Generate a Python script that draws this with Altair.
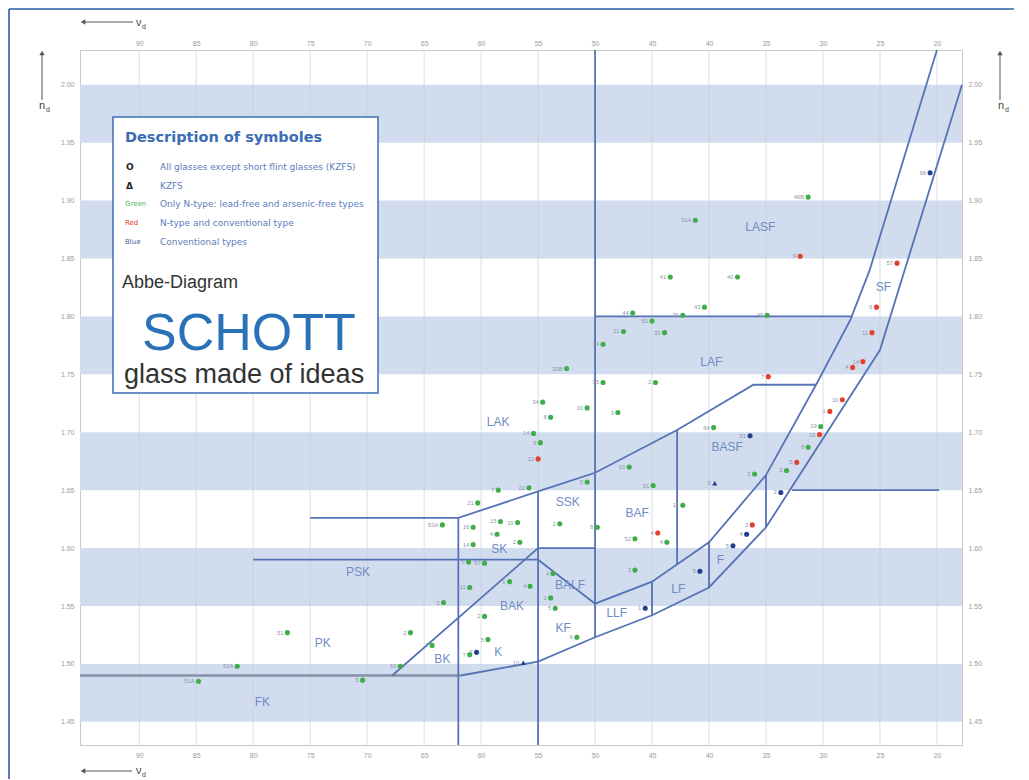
import altair as alt
import pandas as pd

# ---------------- axes ----------------
VD_DOMAIN = [95.2, 17.8]
ND_DOMAIN = [1.43, 2.03]
VD_TICKS = [90, 85, 80, 75, 70, 65, 60, 55, 50, 45, 40, 35, 30, 25, 20]
ND_TICKS = [1.45, 1.50, 1.55, 1.60, 1.65, 1.70, 1.75, 1.80, 1.85, 1.90, 1.95, 2.00]

# shaded nd bands
BAND_LO = [1.45, 1.55, 1.65, 1.75, 1.85, 1.95]
BAND_HI = [1.50, 1.60, 1.70, 1.80, 1.90, 2.00]

# ---------------- glasses ----------------
GLASS_VD = [20.6, 31.3, 41.2, 32.0, 23.5, 43.4, 37.5, 46.7, 45.0, 42.3,
            40.4, 34.9, 47.5, 43.9, 49.3, 52.5, 34.8, 49.3, 44.7, 48.0,
            54.6, 50.7, 53.9, 55.4, 54.8, 55.0, 39.6, 36.4, 47.0, 44.9,
            50.7, 58.5, 55.8, 36.0, 39.5, 42.3, 60.3, 25.3, 25.7, 26.5,
            27.4, 28.3, 29.4, 30.2, 30.3, 31.3, 32.3, 33.2, 33.7, 36.2,
            36.7, 37.9, 40.8, 53.1, 49.8, 60.7, 58.3, 56.8, 58.6, 56.6,
            46.5, 44.5, 43.7, 60.7, 46.5, 53.7, 61.1, 59.7, 57.5, 55.7,
            53.9, 53.5, 61.0, 63.3, 59.7, 45.6, 51.6, 63.4, 77.0, 66.2,
            64.3, 59.4, 61.0, 60.4, 56.3, 67.1, 81.4, 84.8, 70.4]
GLASS_ND = [1.924, 1.903, 1.883, 1.852, 1.846, 1.834, 1.834, 1.803, 1.796, 1.801,
            1.808, 1.801, 1.787, 1.786, 1.776, 1.755, 1.748, 1.743, 1.743, 1.717,
            1.726, 1.721, 1.713, 1.699, 1.691, 1.677, 1.704, 1.697, 1.670, 1.654,
            1.657, 1.650, 1.652, 1.664, 1.656, 1.637, 1.639, 1.808, 1.786, 1.761,
            1.756, 1.728, 1.718, 1.705, 1.698, 1.687, 1.674, 1.667, 1.648, 1.620,
            1.612, 1.602, 1.580, 1.621, 1.618, 1.618, 1.623, 1.622, 1.612, 1.605,
            1.608, 1.613, 1.605, 1.603, 1.581, 1.578, 1.588, 1.587, 1.571, 1.567,
            1.557, 1.548, 1.566, 1.553, 1.541, 1.548, 1.523, 1.620, 1.527, 1.527,
            1.516, 1.521, 1.508, 1.510, 1.501, 1.498, 1.498, 1.485, 1.486]
GLASS_TYPE = ["blue", "green", "green", "red", "red", "green", "green", "green", "green", "green",
              "green", "green", "green", "green", "green", "green", "red", "green", "green", "green",
              "green", "green", "green", "green", "green", "red", "green", "blue", "green", "green",
              "green", "green", "green", "green", "blue", "green", "green", "red", "red", "red",
              "red", "red", "red", "green", "red", "green", "red", "green", "blue", "red",
              "blue", "blue", "blue", "green", "green", "green", "green", "green", "green", "green",
              "green", "red", "green", "green", "green", "green", "green", "green", "green", "green",
              "green", "green", "green", "green", "green", "blue", "green", "green", "green", "green",
              "green", "green", "green", "blue", "blue", "green", "green", "green", "green"]
GLASS_SYMBOL = ["circle"] * 34 + ["triangle"] + ["circle"] * 49 + ["triangle"] + ["circle"] * 4
GLASS_LABEL = ["66", "46B", "31A", "9", "57", "41", "40", "44", "50", "36",
               "43", "45", "21", "33", "34", "33B", "7", "35", "2", "3",
               "34", "10", "8", "14", "9", "12", "64", "51", "10", "51",
               "5", "7", "22", "2", "5", "11", "21", "6", "11", "14",
               "4", "10", "1", "19", "15", "8", "5", "3", "2", "2",
               "4", "5", "5", "2", "8", "16", "15", "10", "4", "2",
               "52", "4", "4", "14", "3", "4", "5", "57", "1", "4",
               "2", "5", "11", "3", "2", "1", "9", "53A", "51", "2",
               "7", "5", "7", "7", "10", "10", "52A", "51A", "5"]

# ---------------- glass-type boundaries (vd, nd) ----------------
FK_LINE_VD = [95.2, 61.8]
FK_LINE_ND = [1.490, 1.490]
OUTER_VD = [61.8, 55.0, 50.0, 45.0, 40.0, 35.0, 25.0, 17.8]
OUTER_ND = [1.490, 1.502, 1.523, 1.542, 1.566, 1.618, 1.771, 2.000]
MID_VD = [80.0, 55.0, 50.0, 45.0, 40.0, 35.0, 30.5, 27.6, 25.9, 20.0]
MID_ND = [1.590, 1.590, 1.552, 1.571, 1.605, 1.663, 1.743, 1.797, 1.840, 2.030]
LAK_VD = [75.0, 62.0, 55.0, 50.0, 42.8, 36.1, 30.6]
LAK_ND = [1.626, 1.626, 1.649, 1.665, 1.702, 1.741, 1.741]
DIAG_VD = [67.8, 55.0, 50.0]
DIAG_ND = [1.490, 1.600, 1.600]
V62_VD, V62_ND = [62.0, 62.0], [1.430, 1.626]
V55_VD, V55_ND = [55.0, 55.0], [1.430, 1.649]
V50_VD, V50_ND = [50.0, 50.0], [1.523, 2.030]
V45_VD, V45_ND = [45.0, 45.0], [1.542, 1.571]
V43_VD, V43_ND = [42.8, 42.8], [1.586, 1.702]
V40_VD, V40_ND = [40.0, 40.0], [1.566, 1.605]
V35_VD, V35_ND = [35.0, 35.0], [1.618, 1.663]
H165_VD, H165_ND = [32.7, 19.8], [1.650, 1.650]
H180_VD, H180_ND = [50.0, 27.5], [1.800, 1.800]

REGION_NAME = ["PK", "FK", "PSK", "BK", "K", "BAK", "SK", "SSK", "LAK", "KF",
               "BALF", "LLF", "LF", "F", "BAF", "BASF", "LAF", "LASF", "SF"]
REGION_VD = [73.9, 79.2, 70.8, 63.4, 58.5, 57.3, 58.4, 52.4, 58.5, 52.8,
             52.2, 48.1, 42.7, 39.0, 46.3, 38.4, 39.8, 35.5, 24.7]
REGION_ND = [1.518, 1.467, 1.579, 1.504, 1.510, 1.550, 1.599, 1.640, 1.709, 1.531,
             1.568, 1.544, 1.565, 1.590, 1.630, 1.687, 1.761, 1.877, 1.825]

# ---------------- legend box text ----------------
LEGEND_TITLE = "Description of symboles"
LEGEND_SYMBOLS = ["O", "Δ"]
LEGEND_COLOR_KEYS = ["Green", "Red", "Blue"]
LEGEND_TEXTS = ["All glasses except short flint glasses (KZFS)",
                "KZFS",
                "Only N-type: lead-free and arsenic-free types",
                "N-type and conventional type",
                "Conventional types"]

# ---------------- styling ----------------
COL_GREEN, COL_RED, COL_BLUE = "#3fae49", "#e5402c", "#22408f"
LINE_COL = "#5573b6"
BAND_COL = "#d1dcee"

xs = alt.Scale(domain=VD_DOMAIN, nice=False, zero=False)
ys = alt.Scale(domain=ND_DOMAIN, nice=False, zero=False)
ax_common = dict(ticks=False, domain=False, grid=False, labelFontSize=7,
                 labelColor="#9b9b9b", title=None, labelFont="Liberation Sans")
ax_x_bottom = alt.Axis(orient="bottom", values=VD_TICKS, format="d", labelPadding=6, **ax_common)
ax_x_top = alt.Axis(orient="top", values=VD_TICKS, format="d", labelPadding=4, **ax_common)
ax_y_left = alt.Axis(orient="left", values=ND_TICKS, format=".2f", labelPadding=6, **ax_common)
ax_y_right = alt.Axis(orient="right", values=ND_TICKS, format=".2f", labelPadding=6, **ax_common)

band_df = pd.DataFrame({"lo": BAND_LO, "hi": BAND_HI,
                        "x0": [VD_DOMAIN[0]] * len(BAND_LO), "x1": [VD_DOMAIN[1]] * len(BAND_LO)})

bands = alt.Chart(band_df).mark_rect(color=BAND_COL).encode(
    x=alt.X("x0:Q", scale=xs, axis=ax_x_bottom), x2="x1:Q",
    y=alt.Y("lo:Q", scale=ys, axis=ax_y_left), y2="hi:Q")
carrier = alt.Chart(band_df).mark_rect(opacity=0).encode(
    x=alt.X("x0:Q", scale=xs, axis=ax_x_top), x2="x1:Q",
    y=alt.Y("lo:Q", scale=ys, axis=ax_y_right), y2="hi:Q")

vgrid = alt.Chart(pd.DataFrame({"vd": VD_TICKS})).mark_rule(
    color="#c8ced9", strokeWidth=0.7).encode(x=alt.X("vd:Q", scale=xs, axis=None))

def poly_df(named):
    rows = []
    for name, (vds, nds) in named.items():
        for i, (a, b) in enumerate(zip(vds, nds)):
            rows.append({"seg": name, "ord": i, "vd": a, "nd": b})
    return pd.DataFrame(rows)

blue_lines = poly_df({
    "outer": (OUTER_VD, OUTER_ND), "mid": (MID_VD, MID_ND), "lak": (LAK_VD, LAK_ND),
    "diag": (DIAG_VD, DIAG_ND), "v62": (V62_VD, V62_ND), "v55": (V55_VD, V55_ND),
    "v50": (V50_VD, V50_ND), "v45": (V45_VD, V45_ND), "v43": (V43_VD, V43_ND),
    "v40": (V40_VD, V40_ND), "v35": (V35_VD, V35_ND), "h165": (H165_VD, H165_ND),
    "h180": (H180_VD, H180_ND)})
gray_lines = poly_df({"fk": (FK_LINE_VD, FK_LINE_ND)})

def line_layer(df, color, width):
    return alt.Chart(df).mark_line(color=color, strokeWidth=width).encode(
        x=alt.X("vd:Q", scale=xs, axis=None), y=alt.Y("nd:Q", scale=ys, axis=None),
        detail="seg:N", order="ord:Q")

lines_gray = line_layer(gray_lines, "#8591a8", 2.6)
lines_blue = line_layer(blue_lines, LINE_COL, 1.8)

region_df = pd.DataFrame({"name": REGION_NAME, "vd": REGION_VD, "nd": REGION_ND})
regions = alt.Chart(region_df).mark_text(color="#6f8cc4", fontSize=12, font="Liberation Sans").encode(
    x=alt.X("vd:Q", scale=xs, axis=None), y=alt.Y("nd:Q", scale=ys, axis=None), text="name:N")

glass_df = pd.DataFrame({"vd": GLASS_VD, "nd": GLASS_ND, "type": GLASS_TYPE,
                         "sym": GLASS_SYMBOL, "label": GLASS_LABEL})
glass_labels = alt.Chart(glass_df).mark_text(align="right", dx=-4, fontSize=5.8, color="#8c96a8").encode(
    x=alt.X("vd:Q", scale=xs, axis=None), y=alt.Y("nd:Q", scale=ys, axis=None), text="label:N")
glass_pts = alt.Chart(glass_df).mark_point(filled=True, size=26, opacity=1).encode(
    x=alt.X("vd:Q", scale=xs, axis=None), y=alt.Y("nd:Q", scale=ys, axis=None),
    color=alt.Color("type:N", scale=alt.Scale(domain=["green", "red", "blue"],
                                              range=[COL_GREEN, COL_RED, COL_BLUE]), legend=None),
    shape=alt.Shape("sym:N", scale=alt.Scale(domain=["circle", "triangle"],
                                             range=["circle", "triangle-up"]), legend=None))

# ---------------- decorations (pixel positions inside the chart) ----------------
def px(col):
    return alt.X(col, type="quantitative", scale=None, axis=None)

def py(col):
    return alt.Y(col, type="quantitative", scale=None, axis=None)

frame = alt.Chart(pd.DataFrame({"a": [-71, -71], "c": [1000, -71],
                                "b": [-41, -41], "d": [-41, 760]})).mark_rule(
    color="#2a5fa8", strokeWidth=1.6).encode(x=px("a"), x2="c:Q", y=py("b"), y2="d:Q")

arrow_df = pd.DataFrame({"a": [3, 3, -38, 920], "c": [53, 52, -38, 920],
                         "b": [-28, 721, 3, 3], "d": [-28, 721, 50, 50]})
arrows = alt.Chart(arrow_df).mark_rule(color="#555", strokeWidth=1).encode(
    x=px("a"), x2="c:Q", y=py("b"), y2="d:Q")
head_df = pd.DataFrame({"a": [3, 3, -38, 920], "b": [-28, 721, 3, 3],
                        "shp": ["triangle-left", "triangle-left", "triangle-up", "triangle-up"]})
heads = alt.Chart(head_df).mark_point(filled=True, size=28, color="#555", opacity=1).encode(
    x=px("a"), y=py("b"), shape=alt.Shape("shp:N", scale=None, legend=None))

sym_df = pd.DataFrame({"t": ["ν", "ν", "n", "n"], "a": [56, 56, -41, 918], "b": [-27, 721, 56, 56]})
sub_df = pd.DataFrame({"t": ["d", "d", "d", "d"], "a": [62, 62, -34, 925], "b": [-23, 725, 60, 60]})
axis_syms = alt.Chart(sym_df).mark_text(align="left", fontSize=11, color="#444").encode(
    x=px("a"), y=py("b"), text="t:N")
axis_subs = alt.Chart(sub_df).mark_text(align="left", fontSize=7, color="#444").encode(
    x=px("a"), y=py("b"), text="t:N")

box = alt.Chart(pd.DataFrame({"a": [33], "b": [67], "c": [298], "d": [343]})).mark_rect(
    fill="white", stroke="#3c6eb4", strokeWidth=1.5).encode(x=px("a"), y=py("b"), x2="c:Q", y2="d:Q")

title_txt = alt.Chart(pd.DataFrame({"t": [LEGEND_TITLE], "a": [45], "b": [88]})).mark_text(
    align="left", fontSize=14.5, fontWeight="bold", font="DejaVu Sans", color="#3a6db4").encode(
    x=px("a"), y=py("b"), text="t:N")

sym_key = alt.Chart(pd.DataFrame({"t": LEGEND_SYMBOLS, "a": [46, 46], "b": [117, 136]})).mark_text(
    align="left", fontSize=9, fontWeight="bold", font="DejaVu Sans", color="#222").encode(
    x=px("a"), y=py("b"), text="t:N")
col_key = alt.Chart(pd.DataFrame({"t": LEGEND_COLOR_KEYS, "a": [45, 45, 45], "b": [154, 173, 192],
                                  "c": ["#5cb85c", "#e5402c", "#3a5fa8"]})).mark_text(
    align="left", fontSize=7, font="DejaVu Sans").encode(x=px("a"), y=py("b"), text="t:N",
                                                         color=alt.Color("c:N", scale=None, legend=None))
desc = alt.Chart(pd.DataFrame({"t": LEGEND_TEXTS, "a": [80] * 5, "b": [117, 136, 154, 173, 192]})).mark_text(
    align="left", fontSize=9, font="DejaVu Sans", color="#5b7dbb").encode(x=px("a"), y=py("b"), text="t:N")

abbe = alt.Chart(pd.DataFrame({"t": ["Abbe-Diagram"], "a": [42], "b": [233]})).mark_text(
    align="left", fontSize=18, color="#333").encode(x=px("a"), y=py("b"), text="t:N")
schott = alt.Chart(pd.DataFrame({"t": ["SCHOTT"], "a": [62], "b": [284]})).mark_text(
    align="left", fontSize=52, color="#2a72b8").encode(x=px("a"), y=py("b"), text="t:N")
slogan = alt.Chart(pd.DataFrame({"t": ["glass made of ideas"], "a": [44], "b": [325]})).mark_text(
    align="left", fontSize=27, color="#333").encode(x=px("a"), y=py("b"), text="t:N")

chart = alt.layer(
    bands, carrier, vgrid, lines_gray, lines_blue, regions, glass_labels, glass_pts,
    frame, arrows, heads, axis_syms, axis_subs,
    box, title_txt, sym_key, col_key, desc, abbe, schott, slogan
).resolve_scale(x="independent", y="independent").properties(
    width=882, height=695,
    padding={"left": 72, "top": 42, "right": 52, "bottom": 34},
    autosize=alt.AutoSizeParams(type="none"),
    background="white"
).configure(font="Liberation Sans").configure_view(stroke="#c8c8c8", strokeWidth=1)

chart.save("out.html", embed_options={"renderer": "svg", "actions": False})
